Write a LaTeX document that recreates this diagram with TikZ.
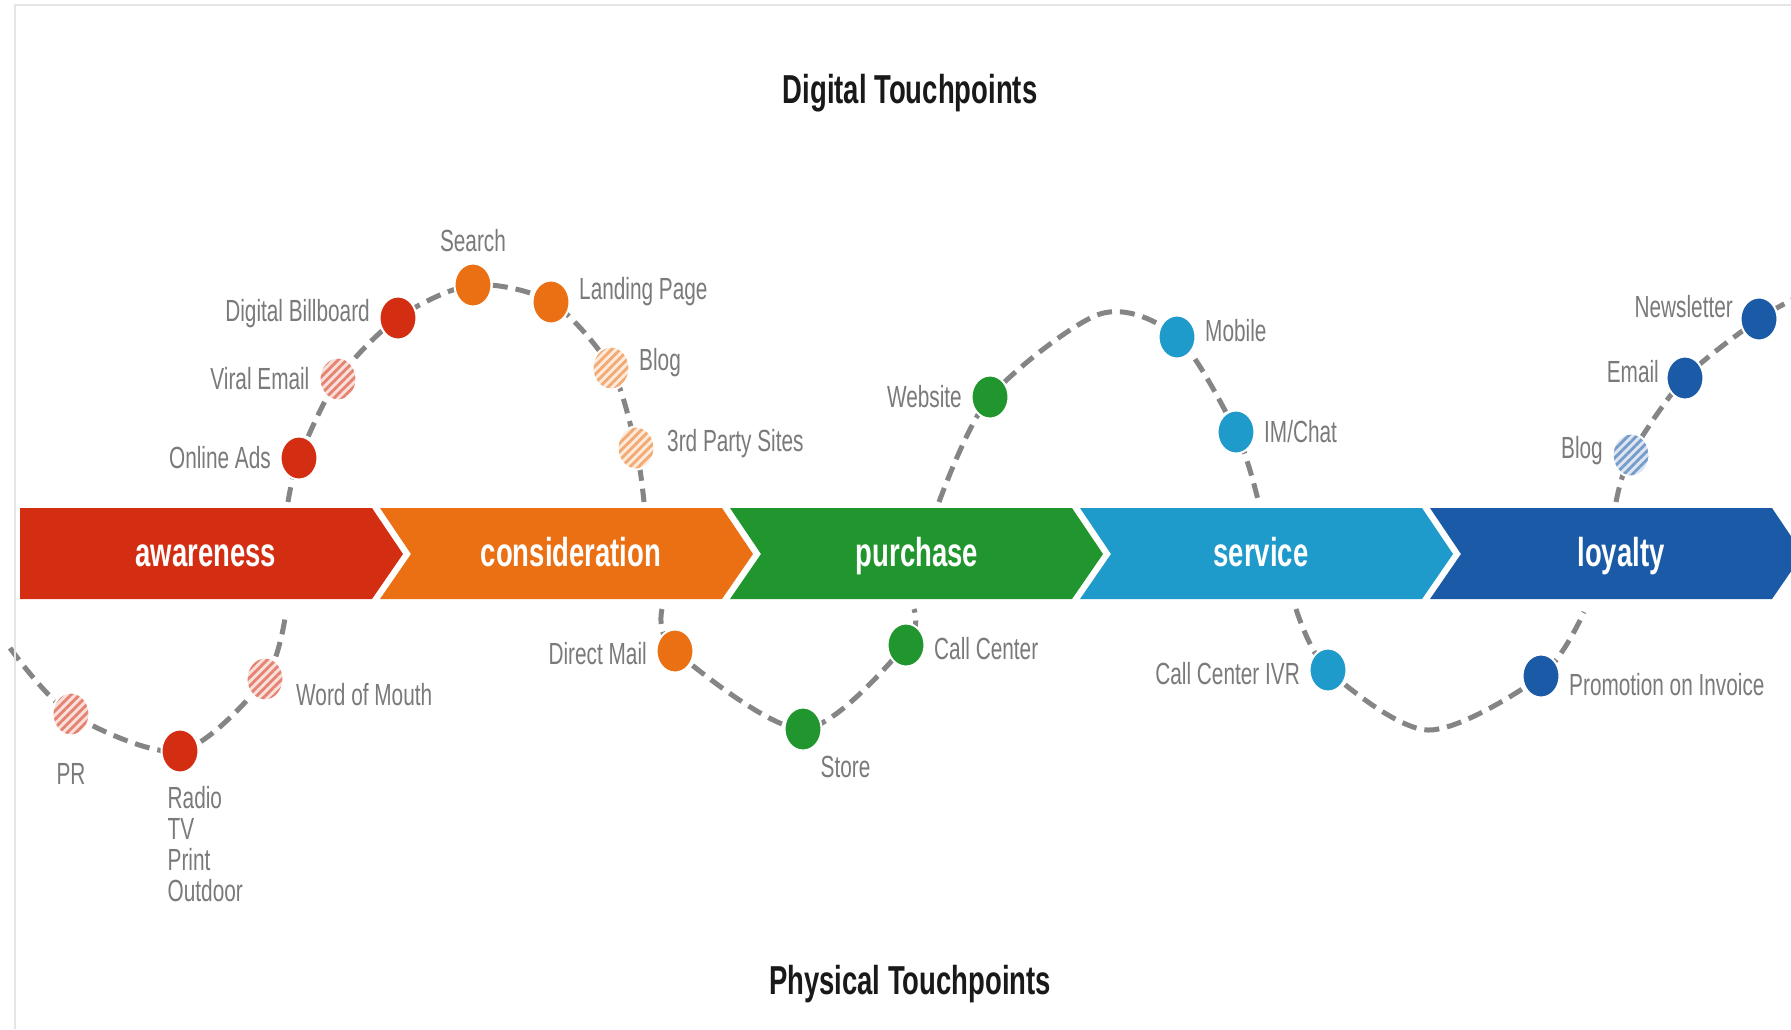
\documentclass[tikz,border=0pt]{standalone}
\usepackage{fontspec}
\usetikzlibrary{positioning,shapes.geometric,patterns.meta,backgrounds}
\newfontfamily\tpfont[FakeStretch=0.68]{Liberation Sans}

\definecolor{aware}{HTML}{D42E12}
\definecolor{consid}{HTML}{EB7014}
\definecolor{purch}{HTML}{22962E}
\definecolor{serv}{HTML}{1E9ACB}
\definecolor{loyal}{HTML}{1A5AA6}
\definecolor{trailgray}{HTML}{858585}
\definecolor{lblgray}{HTML}{7A7A7A}

\begin{document}
\begin{tikzpicture}[
  x=0.1mm, y=-0.1mm,
  tpdot/.style={ellipse, inner sep=0pt, minimum width=3.7mm, minimum height=4.3mm,
    draw=white, line width=0.2mm, fill=#1},
  tphatch/.style={ellipse, inner sep=0pt, minimum width=3.7mm, minimum height=4.3mm,
    draw=white, line width=0.2mm, preaction={fill=#1!15},
    pattern={Lines[angle=45,distance=0.6mm,line width=0.28mm]}, pattern color=#1!60},
  lbl/.style={font=\tpfont\fontsize{8.7}{8.8}\selectfont, text=lblgray, inner sep=0pt},
  stagename/.style={font=\tpfont\bfseries\fontsize{11.5}{12}\selectfont, text=white, anchor=base},
  heading/.style={font=\tpfont\bfseries\fontsize{11.5}{12}\selectfont, text=black!90, anchor=base},
  trail/.style={trailgray, line width=0.5mm, dash pattern=on 1.5mm off 0.8mm},
  node distance=0.8mm
]
\begin{scope}[on background layer]
  \fill[white] (0,0) rectangle (1791,1029);
\end{scope}
\useasboundingbox (0,0) rectangle (1791,1029);
\draw[black!10, line width=0.2mm] (15,1029) -- (15,5) -- (1791,5);

% stages
\fill[aware] (20,508) -- (372,508) -- (403,554) -- (372,599) -- (20,599) -- cycle;
\foreach \l/\col in {380/consid, 730/purch, 1080/serv, 1430/loyal}
  \fill[\col] (\l,508) -- ++(342,0) -- ++(31,46) -- ++(-31,45) -- ++(-342,0) -- ++(31,-45) -- cycle;

\node[stagename] (awareness) at (206,566) {awareness};
\node[stagename] (consideration) at (571,566) {consideration};
\node[stagename] (purchase) at (917,566) {purchase};
\node[stagename] (service) at (1261,566) {service};
\node[stagename] (loyalty) at (1621,566) {loyalty};

\node[heading] (digital) at (910,103) {Digital Touchpoints};
\node[heading] (physical) at (910,994) {Physical Touchpoints};

% digital touchpoints
\node[tpdot=aware] (ads) at (299,458) {};
\node[tphatch=aware] (viral) at (338,379) {};
\node[tpdot=aware] (billboard) at (398,318) {};
\node[tpdot=consid] (search) at (473,285) {};
\node[tpdot=consid] (landing) at (551,302) {};
\node[tphatch=consid] (blogc) at (611,368) {};
\node[tphatch=consid] (party) at (636,448) {};
\node[tpdot=purch] (website) at (990,397) {};
\node[tpdot=serv] (mobile) at (1177,337) {};
\node[tpdot=serv] (imchat) at (1236,432) {};
\node[tphatch=loyal] (blogl) at (1631,455) {};
\node[tpdot=loyal] (email) at (1685,378) {};
\node[tpdot=loyal] (newsletter) at (1759,319) {};

\node[lbl, left=of ads] (adstxt) {Online Ads};
\node[lbl, left=of viral] (viraltxt) {Viral Email};
\node[lbl, left=of billboard, yshift=0.4mm] (billboardtxt) {Digital Billboard};
\node[lbl, above=1mm of search] (searchtxt) {Search};
\node[lbl, right=of landing, yshift=1mm] (landingtxt) {Landing Page};
\node[lbl, right=of blogc, yshift=0.5mm] (blogctxt) {Blog};
\node[lbl, right=1.1mm of party, yshift=0.4mm] (partytxt) {3rd Party Sites};
\node[lbl, left=of website] (websitetxt) {Website};
\node[lbl, right=of mobile, yshift=0.6mm] (mobiletxt) {Mobile};
\node[lbl, right=of imchat] (imchattxt) {IM/Chat};
\node[lbl, left=of blogl, yshift=0.4mm] (blogltxt) {Blog};
\node[lbl, left=0.6mm of email, yshift=0.6mm] (emailtxt) {Email};
\node[lbl, left=0.6mm of newsletter, yshift=1.2mm] (newslettertxt) {Newsletter};

% physical touchpoints
\node[tphatch=aware] (pr) at (71,714) {};
\node[tpdot=aware] (radio) at (180,751) {};
\node[tphatch=aware] (wom) at (265,679) {};
\node[tpdot=consid] (dmail) at (675,651) {};
\node[tpdot=purch] (store) at (803,729) {};
\node[tpdot=purch] (callc) at (906,645) {};
\node[tpdot=serv] (ivr) at (1328,670) {};
\node[tpdot=loyal] (promo) at (1541,676) {};

\node[lbl, below=2.6mm of pr] (prtxt) {PR};
\node[lbl, anchor=north west, align=left] (radiotxt) at ([xshift=-1.3mm,yshift=-1.2mm]radio.south)
  {Radio\\TV\\Print\\Outdoor};
\node[lbl, right=1.1mm of wom, yshift=-1.6mm] (womtxt) {Word of Mouth};
\node[lbl, left=of dmail, yshift=-0.3mm] (dmailtxt) {Direct Mail};
\node[lbl, anchor=north west] (storetxt) at ([xshift=1.7mm,yshift=-0.4mm]store.south) {Store};
\node[lbl, right=of callc, yshift=-0.4mm] (callctxt) {Call Center};
\node[lbl, left=of ivr, yshift=-0.4mm] (ivrtxt) {Call Center IVR};
\node[lbl, right=of promo, yshift=-0.9mm] (promotxt) {Promotion on Invoice};

% loose ends of the trail
\coordinate (a1) at (288,502);
\coordinate (a2) at (644,502);
\coordinate (b1) at (939,502);
\coordinate (bpeak) at (1100,314);
\coordinate (b2) at (1258,500);
\coordinate (c1) at (1616,502);
\coordinate (c2) at (1800,296);
\coordinate (d1) at (10,648);
\coordinate (d2) at (286,612);
\coordinate (e1) at (662,609);
\coordinate (e2) at (914,609);
\coordinate (f1) at (1296,609);
\coordinate (fbot) at (1428,730);
\coordinate (f2) at (1584,612);

\begin{scope}[on background layer]
  \draw[trail] plot[smooth] coordinates {(a1) (ads) (viral) (billboard) (search) (landing) (blogc) (party) (a2)};
  \draw[trail] plot[smooth] coordinates {(b1) (website) (bpeak) (mobile) (imchat) (b2)};
  \draw[trail] plot[smooth] coordinates {(c1) (blogl) (email) (newsletter) (c2)};
  \draw[trail] plot[smooth] coordinates {(d1) (pr) (radio) (wom) (d2)};
  \draw[trail] plot[smooth] coordinates {(e1) (dmail) (store) (callc) (e2)};
  \draw[trail] plot[smooth] coordinates {(f1) (ivr) (fbot) (promo) (f2)};
\end{scope}
\end{tikzpicture}
\end{document}
